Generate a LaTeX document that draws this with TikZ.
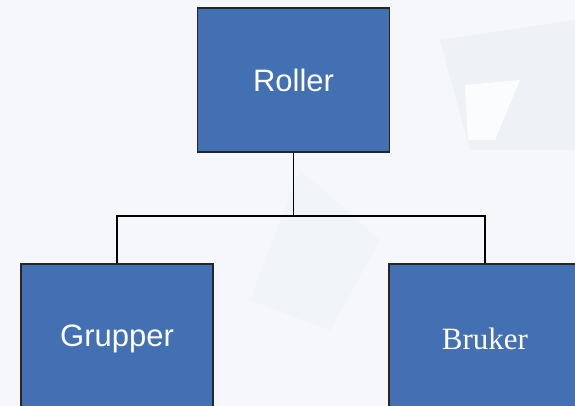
\documentclass[tikz,border=0pt]{standalone}
\usepackage{fontspec}
\setmainfont{Liberation Sans}
\newfontfamily\serifrm{Liberation Serif}
\usepackage{xcolor}
\usetikzlibrary{positioning}

\definecolor{boxblue}{HTML}{4270B2}
\definecolor{bgpale}{HTML}{F5F7FA}
\definecolor{bgshard}{HTML}{EEF1F5}

\tikzset{
	rolebox/.style={rectangle, draw=black!85, line width=1.4pt, fill=boxblue,
		minimum width=192pt, minimum height=144pt, inner sep=0pt,
		text=white, font=\fontsize{31}{37}\selectfont},
	lowbox/.style={rolebox, minimum height=150pt},
	link/.style={draw=black, line width=1.4pt}
}

\begin{document}
\begin{tikzpicture}[x=1pt, y=1pt]
		% page and background
		\useasboundingbox (0,0) rectangle (575,-406);
		\clip (0,0) rectangle (575,-406);
		\fill[bgpale] (0,0) rectangle (575,-406);
		\fill[bgshard] (440,-40) -- (575,-20) -- (575,-150) -- (470,-150) -- cycle;
		\fill[white!60!bgpale] (465,-85) -- (520,-80) -- (495,-140) -- (468,-140) -- cycle;
		\fill[bgshard!40!bgpale] (300,-170) -- (380,-240) -- (330,-330) -- (250,-300) -- cycle;

		\node[rolebox] (roller) at (293.5,-80) {Roller};
		\node[lowbox] (grupper) at (117,-339) {Grupper};
		\node[lowbox, font=\serifrm\fontsize{31}{37}\selectfont] (bruker) at (485,-339) {Bruker};

		\coordinate (fork) at (293.5,-216);

		\draw[link] (roller.south) -- (fork);
		\draw[link] (grupper.north) |- (fork) -| (bruker.north);
\end{tikzpicture}
\end{document}
